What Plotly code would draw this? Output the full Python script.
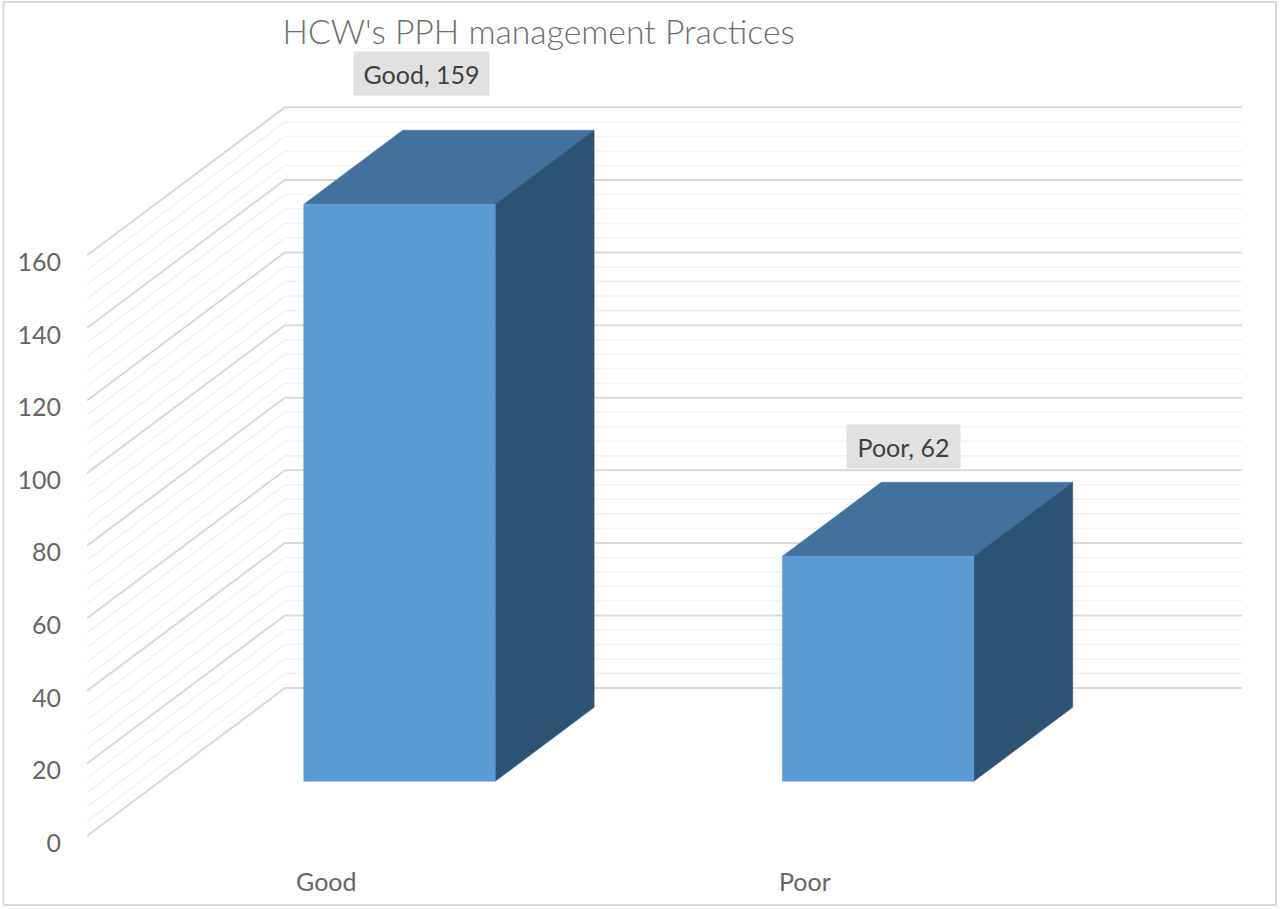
# 3d style column chart, faces are projected from the values on plain cartesian axes
import plotly.graph_objects as go

categories = ["Good", "Poor"]
values = [159, 62]
data_labels = ["Good, 159", "Poor, 62"]
y_ticks = [0, 20, 40, 60, 80, 100, 120, 140, 160]
minor_ticks = [v for v in range(0, 164, 4) if v % 20 != 0 and v < 160]

# depth of the box in axis units
DEPTH_X = 0.4134
DEPTH_Y = 40.77
BAR_W = 0.40
D_FRONT = 0.37
D_BACK = 0.87

FRONT = "#5B9BD5"
TOP = "#41719C"
SIDE = "#2C5374"

fig = go.Figure()


def wall_line(v, color, width):
    xs = [-0.5, -0.5 + DEPTH_X, 1.5 + DEPTH_X]
    ys = [v, v + DEPTH_Y, v + DEPTH_Y]
    fig.add_trace(go.Scatter(x=xs, y=ys, mode="lines", hoverinfo="skip",
                             line=dict(color=color, width=width)))


def face(xs, ys, color, name=None):
    fig.add_trace(go.Scatter(x=xs, y=ys, mode="lines", fill="toself", fillcolor=color,
                             line=dict(color=color, width=0.5), name=name,
                             hoverinfo="name" if name else "skip"))


for v in minor_ticks:
    wall_line(v, "#F2F2F2", 1.5)
for v in y_ticks:
    wall_line(v, "#D9D9D9", 2)

# top, side and front of each box
for i, val in enumerate(values):
    left = i - BAR_W / 2 + D_FRONT * DEPTH_X
    right = i + BAR_W / 2 + D_FRONT * DEPTH_X
    base = D_FRONT * DEPTH_Y
    run_x = (D_BACK - D_FRONT) * DEPTH_X
    run_y = (D_BACK - D_FRONT) * DEPTH_Y
    face([left, right, right + run_x, left + run_x, left],
         [val + base, val + base, val + base + run_y, val + base + run_y, val + base], TOP)
    face([right, right + run_x, right + run_x, right, right],
         [base, base + run_y, val + base + run_y, val + base, base], SIDE)
    face([left, right, right, left, left],
         [base, base, val + base, val + base, base], FRONT, data_labels[i])

# data labels, pushed up from the box tops by hand like in the original
label_shift = [(2, 115.5), (6, 94.5)]
label_width = [121, 99]
for i, val in enumerate(values):
    fig.add_annotation(
        x=i + 0.47 * DEPTH_X, y=val + 0.47 * DEPTH_Y,
        text=data_labels[i], showarrow=False,
        xshift=label_shift[i][0], yshift=label_shift[i][1],
        width=label_width[i], height=29,
        bgcolor="#E1E1E1", borderpad=7,
        font=dict(family="Lato", size=25, color="#404040"),
    )

fig.update_layout(
    width=1280, height=909,
    autosize=False,
    showlegend=False,
    paper_bgcolor="white",
    plot_bgcolor="white",
    margin=dict(l=86.5, r=38, t=100, b=49),
    title=dict(text="HCW's PPH management Practices", xref="container", yref="container",
               x=282.5 / 1280, xanchor="left", y=1 - 32 / 909, yanchor="middle",
               font=dict(family="Lato", size=33.7, color="#6E6E6E", weight=300)),
    xaxis=dict(range=[-0.5, 1.5 + DEPTH_X], tickvals=[0, 1], ticktext=categories,
               showgrid=False, zeroline=False, showline=False, ticks="",
               ticklabelstandoff=5,
               tickfont=dict(family="Lato", size=25, color="#666666")),
    yaxis=dict(range=[-6.6, 202.8], tickvals=y_ticks, showgrid=False, zeroline=False,
               showline=False, ticks="", ticklabelstandoff=25, ticklabelshift=7,
               tickfont=dict(family="Lato", size=25, color="#666666")),
    # outer frame of the chart
    shapes=[dict(type="rect", xref="paper", yref="paper",
                 x0=(3 - 86.5) / 1155.5, x1=(1276 - 86.5) / 1155.5,
                 y0=(860 - 905) / 760, y1=(860 - 2) / 760,
                 line=dict(color="#D9D9D9", width=2), layer="below")],
)

fig.write_html("out.html", config={"displayModeBar": False},
               post_script="document.body.style.margin = '0';")
